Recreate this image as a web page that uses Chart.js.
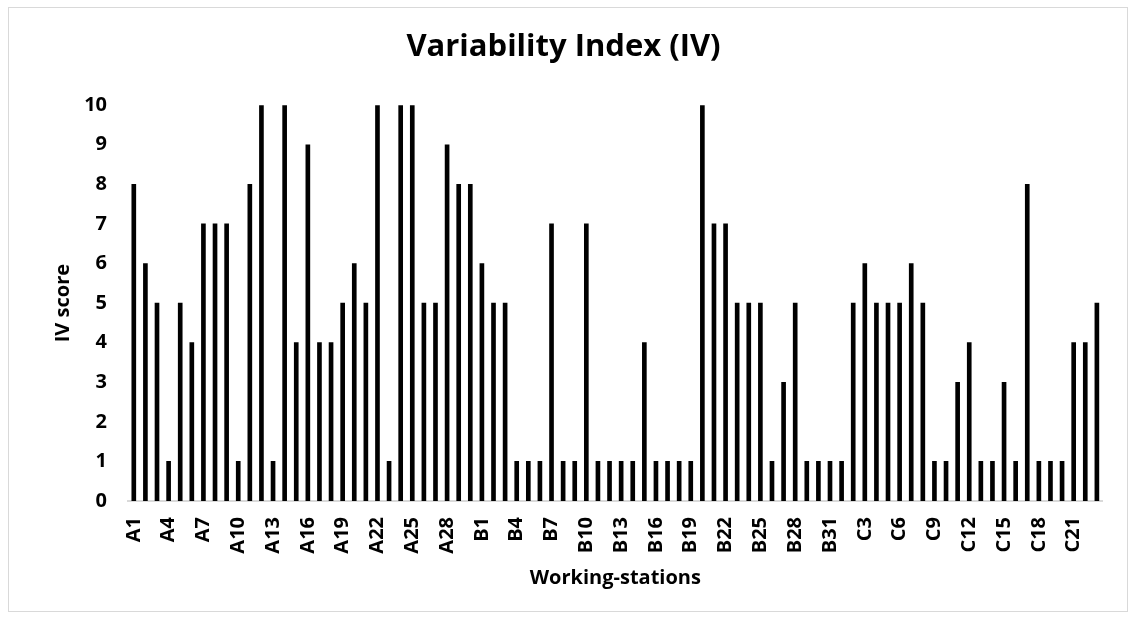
<!DOCTYPE html>
<html>
<head>
<meta charset="utf-8">
<script src="https://cdn.jsdelivr.net/npm/chart.js@4/dist/chart.umd.min.js"></script>
<style>
    html, body { margin: 0; padding: 0; background: #fff; }
    #wrap { position: relative; width: 1137px; height: 620px; }
    #frame {
        position: absolute; left: 8px; top: 7px; width: 1120px; height: 605px;
        border: 1px solid #d9d9d9; box-sizing: border-box;
    }
    canvas { position: absolute; left: 0; top: 0; }
</style>
</head>
<body>
<div id="wrap">
    <div id="frame"></div>
    <canvas id="ivChart" width="1137" height="620"></canvas>
</div>
<script>
// Working-stations (line A, B, C)
const stationsA = ['A1','A2','A3','A4','A5','A6','A7','A8','A9','A10','A11','A12','A13','A14','A15',
    'A16','A17','A18','A19','A20','A21','A22','A23','A24','A25','A26','A27','A28','A29','A30'];
const stationsB = ['B1','B2','B3','B4','B5','B6','B7','B8','B9','B10','B11','B12','B13','B14','B15','B16',
    'B17','B18','B19','B20','B21','B22','B23','B24','B25','B26','B27','B28','B29','B30','B31'];
const stationsC = ['C1','C2','C3','C4','C5','C6','C7','C8','C9','C10','C11','C12','C13','C14','C15','C16',
    'C17','C18','C19','C20','C21','C22','C23'];

// IV scores
const scoresA = [8, 6, 5, 1, 5, 4, 7, 7, 7, 1, 8, 10, 1, 10, 4, 9, 4, 4, 5, 6, 5, 10, 1, 10, 10, 5, 5, 9, 8, 8];
const scoresB = [6, 5, 5, 1, 1, 1, 7, 1, 1, 7, 1, 1, 1, 1, 4, 1, 1, 1, 1, 10, 7, 7, 5, 5, 5, 1, 3, 5, 1, 1, 1];
const scoresC = [1, 5, 6, 5, 5, 5, 6, 5, 1, 1, 3, 4, 1, 1, 3, 1, 8, 1, 1, 1, 4, 4, 5];

// Axis ticks
const yTicks = [0, 1, 2, 3, 4, 5, 6, 7, 8, 9, 10];
const labelEvery = 3;

const labels = [...stationsA, ...stationsB, ...stationsC];
const scores = [...scoresA, ...scoresB, ...scoresC];

const FONT = '"Open Sans", Lato, sans-serif';

new Chart(document.getElementById('ivChart'), {
    type: 'bar',
    data: {
        labels: labels,
        datasets: [{
            label: 'IV score',
            data: scores,
            backgroundColor: '#000000',
            borderWidth: 0,
            barThickness: 4
        }]
    },
    options: {
        responsive: false,
        animation: false,
        layout: { padding: { left: 10, right: 20, top: 0, bottom: 20 } },
        plugins: {
            legend: { display: false },
            tooltip: { enabled: false },
            title: {
                display: true,
                text: 'Variability Index (IV)',
                color: '#000',
                font: { family: FONT, size: 31, weight: 'bold' },
                padding: { top: 29, bottom: 39 }
            }
        },
        scales: {
            x: {
                grid: { display: false, drawTicks: false },
                border: { display: true, color: '#d9d9d9', width: 2 },
                ticks: {
                    autoSkip: false,
                    maxRotation: 90,
                    minRotation: 90,
                    padding: 16,
                    color: '#000',
                    font: { family: FONT, size: 20, weight: 'bold' },
                    callback: function (val, i) {
                        return i % labelEvery === 0 ? labels[i] : '';
                    }
                },
                title: {
                    display: true,
                    text: 'Working-stations',
                    color: '#000',
                    font: { family: FONT, size: 20, weight: 'bold' },
                    padding: { top: 0, bottom: 10 }
                },
                afterFit: (scale) => { scale.height = 99; }
            },
            y: {
                min: yTicks[0],
                max: yTicks[yTicks.length - 1],
                grid: { display: false, drawTicks: false },
                border: { display: false },
                afterBuildTicks: (scale) => { scale.ticks = yTicks.map(v => ({ value: v })); },
                ticks: {
                    padding: 21,
                    color: '#000',
                    font: { family: FONT, size: 20, weight: 'bold' }
                },
                title: {
                    display: true,
                    text: 'IV score',
                    color: '#000',
                    font: { family: FONT, size: 20, weight: 'bold' },
                    padding: { top: 41, bottom: 0 }
                },
                afterFit: (scale) => { scale.width = 118; }
            }
        }
    }
});
</script>
</body>
</html>
